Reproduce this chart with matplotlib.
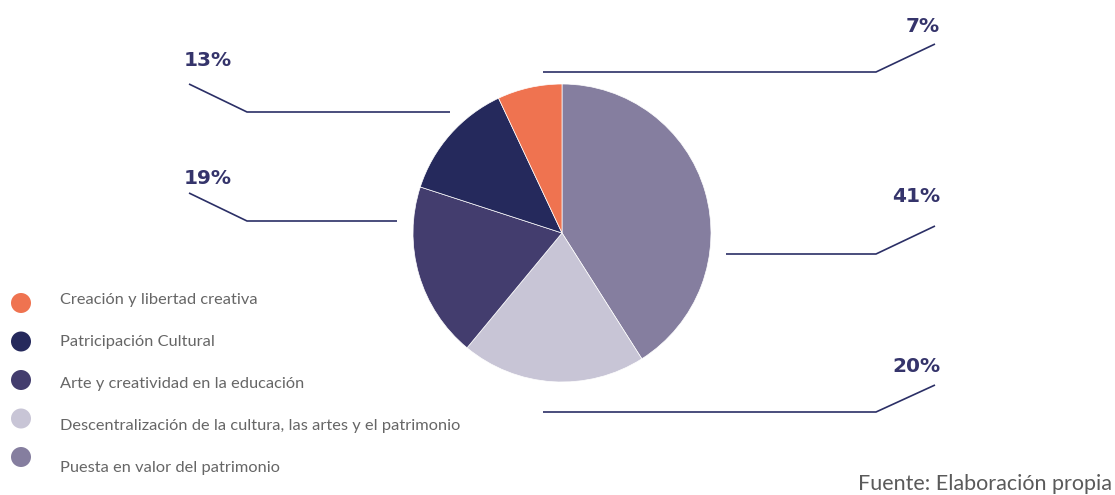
import matplotlib
matplotlib.use("Agg")
import matplotlib.pyplot as plt
from matplotlib.patches import Circle

# ---- data ----
categories = [
    "Creación y libertad creativa",
    "Patricipación Cultural",
    "Arte y creatividad en la educación",
    "Descentralización de la cultura, las artes y el patrimonio",
    "Puesta en valor del patrimonio",
]
values = [7, 13, 19, 20, 41]
colors = ["#ef7350", "#25295c", "#433d6e", "#c8c5d6", "#857e9f"]
source_text = "Fuente: Elaboración propia"

W, H = 1115, 495
fig = plt.figure(figsize=(W / 100, H / 100), dpi=100)
ax = fig.add_axes([0, 0, 1, 1])

def Y(py):
    return H - py

# pie: clockwise from top, starting with the largest slice
order = [4, 3, 2, 1, 0]
ax.pie([values[i] for i in order], colors=[colors[i] for i in order],
       startangle=90, counterclock=False, center=(562, Y(233)), radius=149,
       wedgeprops=dict(edgecolor="white", linewidth=0.5))
ax.set_xlim(0, W)
ax.set_ylim(0, H)
ax.set_aspect("equal")
ax.axis("off")

line_col = "#2b2f66"
lab_col = "#35346b"
# leader lines + labels: (category index, line pts, text pos, ha)
leaders = [
    (0, [(543, 72), (876, 72), (935, 44)], (940, 27), "right"),
    (4, [(726, 254), (876, 254), (935, 226)], (940, 196), "right"),
    (3, [(543, 412), (876, 412), (935, 385)], (940, 366), "right"),
    (1, [(450, 112), (247, 112), (189, 84)], (184, 60), "left"),
    (2, [(397, 221), (247, 221), (189, 193)], (184, 178), "left"),
]
for idx, pts, (tx, ty), ha in leaders:
    ax.plot([p[0] for p in pts], [Y(p[1]) for p in pts], color=line_col, lw=1.2,
            solid_capstyle="butt")
    ax.text(tx, Y(ty), f"{values[idx]}%", ha=ha, va="center", fontsize=14.5,
            fontweight="bold", color=lab_col, family="DejaVu Sans")

# legend
for i, (cat, col) in enumerate(zip(categories, colors)):
    cy = 303 + 38.5 * i
    ax.add_patch(Circle((21, Y(cy)), 10, color=col, lw=0))
    ax.text(60, Y(300 + 42 * i), cat, ha="left", va="center", fontsize=11.8,
            color="#666666", family=["Lato", "DejaVu Sans"])

ax.text(1112, Y(484), source_text, ha="right", va="center", fontsize=15.5,
        color="#5a5a5a", family=["Lato", "DejaVu Sans"])

fig.savefig("out.png", dpi=100)
